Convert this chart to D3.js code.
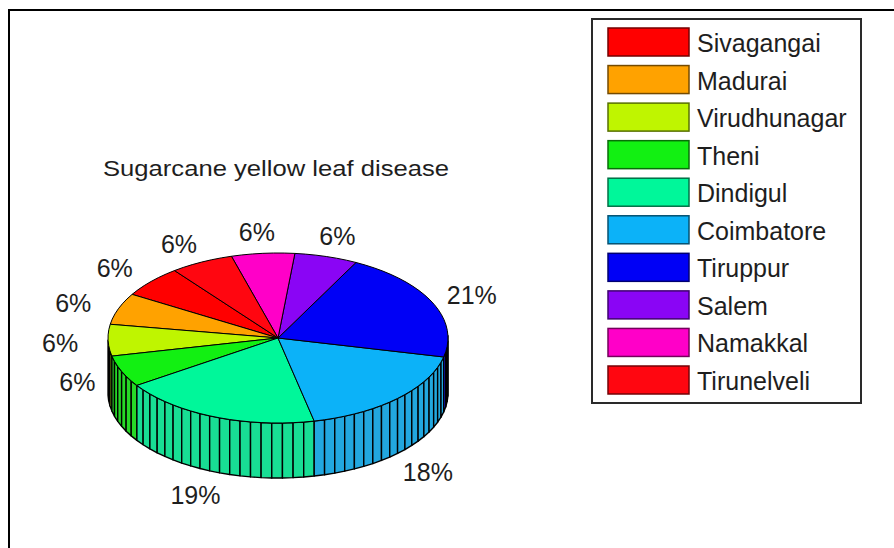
<!DOCTYPE html>
<html>
<head>
<meta charset="utf-8">
<script src="https://cdn.jsdelivr.net/npm/d3@7"></script>
<style>
  html, body { margin: 0; padding: 0; background: #fff; }
  svg { display: block; }
  text { font-family: "Liberation Sans", Arial, Helvetica, sans-serif; fill: #1e1e1e; }
</style>
</head>
<body>
<svg id="chart" width="894" height="548"></svg>
<script>
// ---- data ----
const chartTitle = "Sugarcane yellow leaf disease";
const districts = ["Sivagangai", "Madurai", "Virudhunagar", "Theni", "Dindigul",
                   "Coimbatore", "Tiruppur", "Salem", "Namakkal", "Tirunelveli"];
const percents = [6, 6, 6, 6, 19, 18, 21, 6, 6, 6];
const sliceColors = ["#ff0000", "#ffa200", "#bff500", "#12f012", "#00f79a",
                     "#0cb2f8", "#0000f6", "#8a05f5", "#ff00c8", "#ff0610"];

const W = 894, H = 548;
const svg = d3.select("#chart");

// outer frame (runs off the right and bottom edges)
svg.append("rect")
  .attr("x", 9).attr("y", 10)
  .attr("width", W + 20).attr("height", H + 20)
  .attr("fill", "#fff").attr("stroke", "#000").attr("stroke-width", 2);

// ---- 3D pie geometry ----
const cx = 278, cy = 338, rx = 170, ry = 85, depth = 55;
const startDeg = 127.5;                 // first slice edge, counter-clockwise from 3 o'clock
const px = d3.scaleLinear().domain([-1, 1]).range([cx - rx, cx + rx]);
const py = d3.scaleLinear().domain([-1, 1]).range([cy + ry, cy - ry]);
const toTheta = a => startDeg * Math.PI / 180 + a;
const rimPt = (t, k = 1) => [px(k * Math.cos(t)), py(k * Math.sin(t))];

const arcs = d3.pie().sort(null).value(d => d)(percents);
const line = d3.line();

const pieG = svg.append("g");
const sideG = pieG.append("g");
const topG = pieG.append("g");

arcs.forEach((a, i) => {
  const n = Math.max(1, Math.ceil(percents[i]));
  const thetas = d3.range(n + 1).map(j => toTheta(a.startAngle + (a.endAngle - a.startAngle) * j / n));
  const col = sliceColors[i];
  const sideCol = d3.interpolateRgb(col, "#7a7a7a")(0.2);

  // side wall facets on the front half
  for (let j = 0; j < n; j++) {
    const t0 = thetas[j], t1 = thetas[j + 1];
    if (Math.sin((t0 + t1) / 2) >= 0) continue;
    const p0 = rimPt(t0), p1 = rimPt(t1);
    sideG.append("path")
      .attr("d", line([p0, p1, [p1[0], p1[1] + depth], [p0[0], p0[1] + depth]]) + "Z")
      .attr("fill", sideCol)
      .attr("stroke", "#000")
      .attr("stroke-width", 1.4)
      .attr("stroke-linejoin", "round");
  }

  // top face
  const pts = [[px(0), py(0)]].concat(thetas.map(t => rimPt(t)));
  topG.append("path")
    .attr("d", line(pts) + "Z")
    .attr("fill", col)
    .attr("stroke", "#000")
    .attr("stroke-width", 1)
    .attr("stroke-linejoin", "round");
});

// percentage labels
const labelK = 1.27;
const labelG = svg.append("g");
arcs.forEach((a, i) => {
  const mid = toTheta((a.startAngle + a.endAngle) / 2);
  let [lx, ly] = rimPt(mid, labelK);
  // labels that would sit on the cylinder wall drop below it
  const u = (lx - cx) / rx;
  if (Math.abs(u) < 1) {
    const rimBottom = cy + ry * Math.sqrt(1 - u * u);
    if (ly > rimBottom) ly += depth;
  }
  labelG.append("text")
    .attr("x", lx - 2).attr("y", ly + 2)
    .attr("text-anchor", "middle")
    .attr("dominant-baseline", "central")
    .attr("font-size", 25)
    .text(percents[i] + "%");
});

// title
svg.append("text")
  .attr("x", 103).attr("y", 176)
  .attr("font-size", 22)
  .attr("textLength", 346)
  .attr("lengthAdjust", "spacingAndGlyphs")
  .text(chartTitle);

// ---- legend ----
const legX = 592, legY = 19, legW = 269, legH = 384;
const legend = svg.append("g");
legend.append("rect")
  .attr("x", legX).attr("y", legY).attr("width", legW).attr("height", legH)
  .attr("fill", "#fff").attr("stroke", "#2a2a2a").attr("stroke-width", 2);

const rowY = d3.scaleLinear().domain([0, districts.length - 1]).range([28, 366]);
const swW = 81, swH = 28, swX = 608;
districts.forEach((name, i) => {
  const y = rowY(i);
  legend.append("rect")
    .attr("x", swX).attr("y", y).attr("width", swW).attr("height", swH)
    .attr("fill", sliceColors[i])
    .attr("stroke", d3.color(sliceColors[i]).darker(2.2))
    .attr("stroke-width", 1.5);
  legend.append("text")
    .attr("x", 697).attr("y", y + swH / 2 + 1)
    .attr("dominant-baseline", "central")
    .attr("font-size", 25)
    .text(name);
});
</script>
</body>
</html>
